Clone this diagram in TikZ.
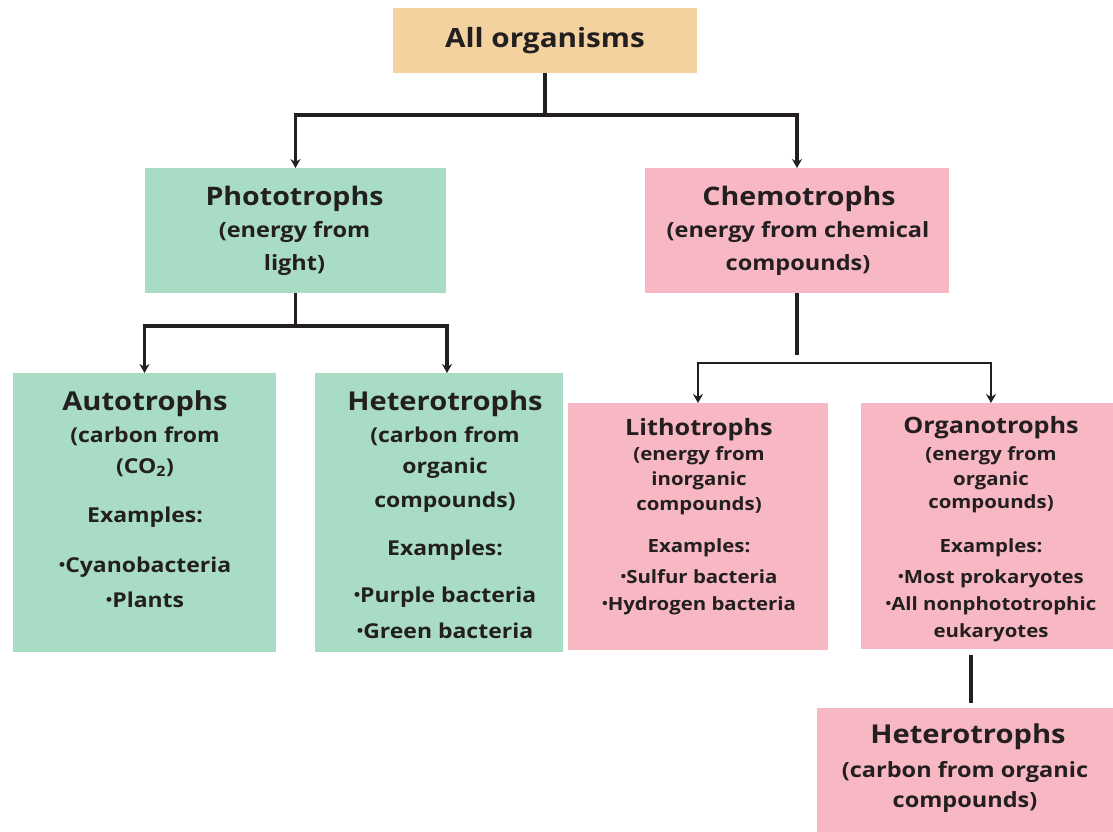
\documentclass[tikz,border=0pt]{standalone}
\usepackage{fontspec}
\usepackage{graphicx}
\setmainfont{Open Sans}[FakeStretch=1.12]
\usetikzlibrary{arrows.meta,calc}
\definecolor{gfill}{HTML}{A8DCC5}
\definecolor{pfill}{HTML}{F7B7C3}
\definecolor{tfill}{HTML}{F3D2A0}
\definecolor{tcol}{HTML}{231F20}
\definecolor{lcol}{HTML}{231F20}
\newcommand\bul{\raisebox{0.08em}{\scalebox{0.75}{•}}}
\tikzset{
  boxnode/.style={draw=none, inner sep=0pt, outer sep=0pt, rectangle},
  tx/.style={anchor=base, inner sep=0pt, outer sep=0pt, text=tcol},
  ftop/.style={tx, font=\bfseries\fontsize{26.5}{30}\selectfont},
  ftwo/.style={tx, font=\bfseries\fontsize{25.5}{30}\selectfont},
  fbtwo/.style={tx, font=\bfseries\fontsize{21}{25}\selectfont},
  fthree/.style={tx, font=\bfseries\fontsize{26}{30}\selectfont},
  fbthree/.style={tx, font=\bfseries\fontsize{20.5}{25}\selectfont},
  fsmall/.style={tx, font=\bfseries\fontsize{22.5}{26}\selectfont},
  fbsmall/.style={tx, font=\bfseries\fontsize{18.2}{21}\selectfont},
  conn/.style={draw=lcol, line width=3.8pt},
  thin/.style={draw=lcol, line width=2.6pt},
  arr/.style={-{Stealth[length=9pt,width=10pt,inset=3pt]}},
}
\begin{document}
\begin{tikzpicture}[x=1pt,y=-1pt]
\useasboundingbox (0,0) rectangle (1113,831);
\fill[white] (0,0) rectangle (1113,831);

% boxes
\node[boxnode, fill=tfill, minimum width=304pt, minimum height=65pt] (all) at (545,40.5) {};
\node[boxnode, fill=gfill, minimum width=301pt, minimum height=125pt] (photo) at (295.5,230.5) {};
\node[boxnode, fill=pfill, minimum width=304pt, minimum height=125pt] (chemo) at (797,230.5) {};
\node[boxnode, fill=gfill, minimum width=263pt, minimum height=279pt] (auto) at (144.5,512.5) {};
\node[boxnode, fill=gfill, minimum width=248pt, minimum height=279pt] (hetero) at (439,512.5) {};
\node[boxnode, fill=pfill, minimum width=260pt, minimum height=247pt] (litho) at (698,526.5) {};
\node[boxnode, fill=pfill, minimum width=260pt, minimum height=246pt] (organo) at (991,526) {};
\node[boxnode, fill=pfill, minimum width=298pt, minimum height=137pt] (bothet) at (966,776.5) {};

% texts
\node[ftop] (allT) at (545,47) {All organisms};

\node[ftwo] (photoT) at (294.5,205) {Phototrophs};
\node[fbtwo] (photoL1) at (294.5,237) {(energy from};
\node[fbtwo] (photoL2) at (294.5,270) {light)};

\node[ftwo] (chemoT) at (799,205) {Chemotrophs};
\node[fbtwo] (chemoL1) at (798,237) {(energy from chemical};
\node[fbtwo] (chemoL2) at (798,270) {compounds)};

\node[fthree] (autoT) at (145,410) {Autotrophs};
\foreach \s/\yy [count=\k] in {{(carbon from}/442, {(CO\textsubscript{2})}/473, {Examples:}/522, {\bul Cyanobacteria}/572, {\bul Plants}/607}
  \node[fbthree] (autoL\k) at (145,\yy) {\s};

\node[fthree] (heteroT) at (445,410) {Heterotrophs};
\foreach \s/\yy [count=\k] in {{(carbon from}/442, {organic}/473, {compounds)}/507, {Examples:}/555, {\bul Purple bacteria}/602, {\bul Green bacteria}/638}
  \node[fbthree] (heteroL\k) at (445,\yy) {\s};

\node[fsmall] (lithoT) at (699,435) {Lithotrophs};
\foreach \s/\yy [count=\k] in {{(energy from}/460, {inorganic}/485, {compounds)}/510, {Examples:}/552, {\bul Sulfur bacteria}/583, {\bul Hydrogen bacteria}/610}
  \node[fbsmall] (lithoL\k) at (699,\yy) {\s};

\node[fsmall] (organoT) at (991,433) {Organotrophs};
\foreach \s/\yy [count=\k] in {{(energy from}/460, {organic}/485, {compounds)}/508, {Examples:}/552, {\bul Most prokaryotes}/583, {\bul All nonphototrophic}/610, {eukaryotes}/637}
  \node[fbsmall] (organoL\k) at (991,\yy) {\s};

\node[fthree] (bothetT) at (968,743) {Heterotrophs};
\node[fbtwo] (bothetL1) at (965,777) {(carbon from organic};
\node[fbtwo] (bothetL2) at (965,807) {compounds)};

% connectors
\coordinate (j1) at (545,115);
\draw[conn] (all.south) -- (j1);
\draw[conn, arr] (j1) -| (photo.north);
\draw[conn, arr] (j1) -| (chemo.north);

\coordinate (j2) at (295.5,326);
\draw[conn] (photo.south) -- (j2);
\draw[conn, arr] (j2) -| (auto.north);
\draw[conn, arr] (j2) -| ([xshift=8pt]hetero.north);

\coordinate (j3a) at (797,355);
\coordinate (j3) at (797,363);
\draw[conn] (chemo.south) -- (j3a);
\draw[thin, arr] (j3) -| (litho.north);
\draw[thin, arr] (j3) -| (organo.north);

\coordinate (o1) at (971,655);
\coordinate (o2) at (971,703);
\draw[conn] (o1) -- (o2);
\end{tikzpicture}
\end{document}
